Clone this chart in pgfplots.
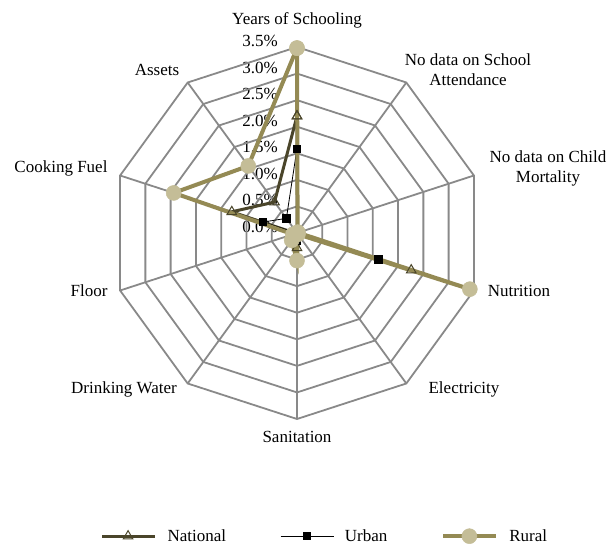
\documentclass[border=0pt]{standalone}
\usepackage{fontspec}
\setmainfont{Liberation Serif}
\usepackage{pgfplots}
\pgfplotsset{compat=1.18}
\definecolor{gridgray}{HTML}{898989}
\definecolor{ruralline}{HTML}{948A54}
\definecolor{ruralmark}{HTML}{C4BD97}
\definecolor{natline}{HTML}{4A452A}

\begin{document}
\begin{tikzpicture}[font=\fontsize{17}{20}\selectfont]
\path (-297pt,-313pt) rectangle (316pt,233pt);
% radial tick labels
\foreach \v/\t in {0/0.0,0.5/0.5,1/1.0,1.5/1.5,2/2.0,2.5/2.5,3/3.0,3.5/3.5}
  \node[anchor=east, inner sep=0pt] at (-19pt, {\v*53.143pt+6pt}) {\t\%};
\begin{axis}[
  anchor=origin, at={(0pt,0pt)},
  x=53.143pt, y=53.143pt,
  xmin=-5.589, xmax=5.946, ymin=-5.890, ymax=4.384,
  hide axis, clip=false,
  data cs=polar,
  legend columns=3,
  legend style={at={(0.530,0.0)}, anchor=south, draw=none, fill=none,
    font=\fontsize{17}{20}\selectfont, inner sep=1pt,
    /tikz/every odd column/.append style={column sep=9pt},
    /tikz/every even column/.append style={column sep=52pt}},
  legend image code/.code={\draw[mark repeat=2,mark phase=2,#1] plot coordinates {(0pt,0pt)(26pt,0pt)(53pt,0pt)};},
]
% decagon rings
\pgfplotsinvokeforeach{0.5,1,1.5,2,2.5,3,3.5}{
  \addplot[gridgray, line width=1.8pt, forget plot, mark=none] coordinates {(90,#1)(54,#1)(18,#1)(-18,#1)(-54,#1)(-90,#1)(-126,#1)(-162,#1)(-198,#1)(-234,#1)} -- cycle;
}
% spokes
\pgfplotsinvokeforeach{90,54,18,-18,-54,-90,-126,-162,-198,-234}{
  \addplot[gridgray, line width=1.8pt, forget plot, mark=none] coordinates {(#1,0)(#1,3.5)};
}
% National
\addplot[natline, line width=3pt, mark=triangle, mark size=5.5pt,
  mark options={fill=white, draw=natline, line width=1pt, solid}] coordinates {
  (90,2.20)(54,0.0)(18,0.0)(-18,2.26)(-54,0.02)(-90,0.28)(-126,0.05)(-162,0.03)(-198,1.29)(-234,0.72)(-270,2.20)};
\addlegendentry{National}
% Urban
\addplot[black, line width=0.8pt, mark=square*, mark size=3.6pt,
  mark options={fill=black, draw=black, solid}] coordinates {
  (90,1.59)(54,0.0)(18,0.0)(-18,1.61)(-54,0.01)(-90,0.15)(-126,0.02)(-162,0.01)(-198,0.67)(-234,0.34)(-270,1.59)};
\addlegendentry{Urban}
% Rural
\addplot[ruralline, line width=4pt, mark=*, mark size=7.5pt,
  mark options={fill=ruralmark, draw=ruralmark, line width=0.5pt, solid}] coordinates {
  (90,3.48)(54,0.02)(18,0.02)(-18,3.42)(-54,0.03)(-90,0.52)(-126,0.17)(-162,0.08)(-198,2.44)(-234,1.56)(-270,3.48)};
\addlegendentry{Rural}
\end{axis}
% category labels
\node at (0pt,213pt) {Years of Schooling};
\node[align=center] at (171pt,163pt) {No data on School\\Attendance};
\node[align=center] at (251pt,65pt) {No data on Child\\Mortality};
\node at (222pt,-58pt) {Nutrition};
\node at (167pt,-156pt) {Electricity};
\node at (0pt,-204pt) {Sanitation};
\node at (-173pt,-156pt) {Drinking Water};
\node at (-208pt,-58pt) {Floor};
\node at (-236pt,65pt) {Cooking Fuel};
\node at (-140pt,163pt) {Assets};
\end{tikzpicture}
\end{document}
